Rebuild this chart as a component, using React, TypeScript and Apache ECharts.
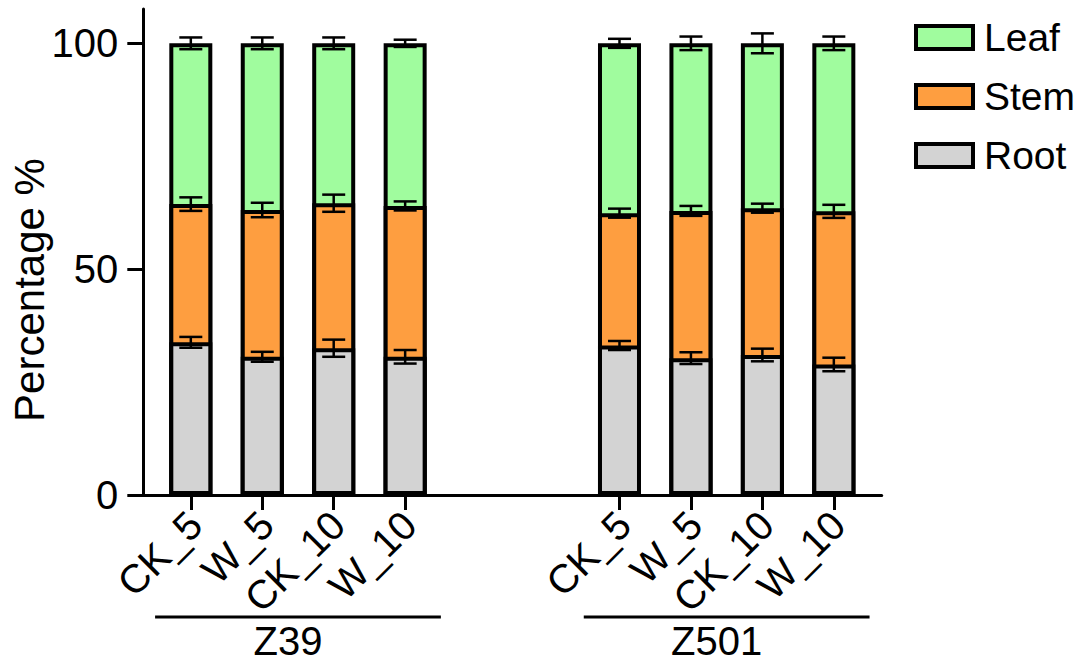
import React, { useEffect, useRef } from "react";
import * as echarts from "echarts";

// ---- data ----
const categories = ["CK_5", "W_5", "CK_10", "W_10", "CK_5", "W_5", "CK_10", "W_10"];
const positions = [0, 1, 2, 3, 6, 7, 8, 9];
const groups = ["Z39", "Z501"];
const groupRanges = [
  [0, 3],
  [6, 9],
];
const rootValues = [33.8, 30.6, 32.5, 30.6, 33.1, 30.3, 31.0, 28.9];
const stemValues = [30.6, 32.5, 32.1, 33.4, 29.3, 32.6, 32.5, 33.9];
const leafValues = [35.6, 36.9, 35.4, 36.0, 37.6, 37.1, 36.5, 37.2];
const rootErr = [1.2, 1.1, 1.9, 1.5, 1.0, 1.3, 1.4, 1.5];
const stemErr = [1.5, 1.6, 1.9, 1.0, 1.0, 1.1, 1.0, 1.45];
const leafErr = [1.3, 1.3, 1.3, 0.8, 1.0, 1.5, 2.2, 1.5];
const yTicks = [0, 50, 100];

const FONT = "'Liberation Sans', Arial, Helvetica, sans-serif";
const COLORS = { Leaf: "#A0FC9E", Stem: "#FE9E40", Root: "#D3D3D3" };

export default function App() {
  const ref = useRef<HTMLDivElement>(null);

  useEffect(() => {
    document.body.style.margin = "0";
    if (!ref.current) return;
    const chart = echarts.init(ref.current, undefined, { renderer: "svg" });

    // cumulative tops of each stacked segment
    const rootTop = rootValues.map((v) => v);
    const stemTop = rootValues.map((v, i) => v + stemValues[i]);
    const leafTop = rootValues.map((v, i) => v + stemValues[i] + leafValues[i]);
    const barData = (vals: number[]) => vals.map((v, i) => [positions[i], v]);

    const errData: number[][] = [];
    positions.forEach((p, i) => {
      errData.push([p, rootTop[i], rootErr[i]]);
      errData.push([p, stemTop[i], stemErr[i]]);
      errData.push([p, leafTop[i], leafErr[i]]);
    });

    const barStyle = (color: string) => ({
      color,
      borderColor: "#000",
      borderWidth: 4,
    });

    chart.setOption({
      animation: false,
      textStyle: { fontFamily: FONT },
      grid: {
        left: 143.3,
        right: 199.3,
        top: 9,
        bottom: 168,
        containLabel: false,
        outerBoundsMode: "none",
      },
      legend: {
        orient: "vertical",
        left: 914,
        top: 18,
        padding: 0,
        itemGap: 20,
        itemWidth: 57,
        itemHeight: 23,
        icon: "rect",
        data: ["Leaf", "Stem", "Root"],
        itemStyle: { borderColor: "#000", borderWidth: 4 },
        textStyle: { fontSize: 39, color: "#000", fontFamily: FONT, padding: [0, 0, 0, 6] },
      },
      xAxis: {
        type: "value",
        min: -0.665,
        max: 9.67,
        splitLine: { show: false },
        axisLine: { show: true, onZero: false, lineStyle: { color: "#000", width: 3 } },
        axisTick: {
          show: true,
          length: 15,
          lineStyle: { color: "#000", width: 3 },
          customValues: positions,
        },
        axisLabel: {
          customValues: positions,
          rotate: 45,
          margin: 19,
          fontSize: 40,
          lineHeight: 12,
          verticalAlign: "top",
          color: "#000",
          fontFamily: FONT,
          formatter: (v: number) => {
            const idx = positions.indexOf(Math.round(v));
            return idx >= 0 ? categories[idx] : "";
          },
        },
      },
      yAxis: {
        type: "value",
        min: 0,
        max: 107.6,
        name: "Percentage %",
        nameLocation: "middle",
        nameGap: 93,
        nameMoveOverlap: false,
        nameTextStyle: { fontSize: 42, color: "#000", fontFamily: FONT, padding: [0, 76, 0, 0] },
        splitLine: { show: false },
        axisLine: { show: true, onZero: false, lineStyle: { color: "#000", width: 3 } },
        axisTick: {
          show: true,
          length: 16,
          lineStyle: { color: "#000", width: 3 },
          customValues: yTicks,
        },
        axisLabel: {
          customValues: yTicks,
          margin: 25,
          fontSize: 40,
          color: "#000",
          fontFamily: FONT,
        },
      },
      series: [
        {
          name: "Leaf",
          type: "bar",
          barWidth: 43,
          barGap: "-100%",
          z: 2,
          data: barData(leafTop),
          itemStyle: barStyle(COLORS.Leaf),
        },
        {
          name: "Stem",
          type: "bar",
          barWidth: 43,
          barGap: "-100%",
          z: 3,
          data: barData(stemTop),
          itemStyle: barStyle(COLORS.Stem),
        },
        {
          name: "Root",
          type: "bar",
          barWidth: 43,
          barGap: "-100%",
          z: 4,
          data: barData(rootTop),
          itemStyle: barStyle(COLORS.Root),
        },
        {
          name: "err",
          type: "custom",
          z: 10,
          clip: false,
          data: errData,
          encode: { x: 0, y: 1 },
          renderItem: (params: any, api: any) => {
            const x = api.value(0);
            const t = api.value(1);
            const e = api.value(2);
            const hi = api.coord([x, t + e]);
            const lo = api.coord([x, t - e]);
            const half = 11.5;
            const style = { stroke: "#000", lineWidth: 2.5 };
            return {
              type: "group",
              children: [
                { type: "line", shape: { x1: hi[0], y1: hi[1], x2: lo[0], y2: lo[1] }, style },
                { type: "line", shape: { x1: hi[0] - half, y1: hi[1], x2: hi[0] + half, y2: hi[1] }, style },
                { type: "line", shape: { x1: lo[0] - half, y1: lo[1], x2: lo[0] + half, y2: lo[1] }, style },
              ],
            };
          },
        },
      ],
    });

    // group brackets under the category labels
    const graphics: any[] = [];
    groupRanges.forEach((r, gi) => {
      const x1 = chart.convertToPixel({ xAxisIndex: 0 }, r[0] - 0.5) as number;
      const x2 = chart.convertToPixel({ xAxisIndex: 0 }, r[1] + 0.5) as number;
      graphics.push({
        type: "line",
        shape: { x1, y1: 617, x2, y2: 617 },
        style: { stroke: "#000", lineWidth: 3 },
      });
      graphics.push({
        type: "text",
        x: (x1 + x2) / 2 - 10,
        y: 641,
        style: {
          text: groups[gi],
          fontSize: 40,
          fontFamily: FONT,
          fill: "#000",
          align: "center",
          verticalAlign: "middle",
        },
      });
    });
    chart.setOption({ graphic: graphics });

    return () => chart.dispose();
  }, []);

  return <div ref={ref} style={{ width: 1081, height: 663 }} />;
}
